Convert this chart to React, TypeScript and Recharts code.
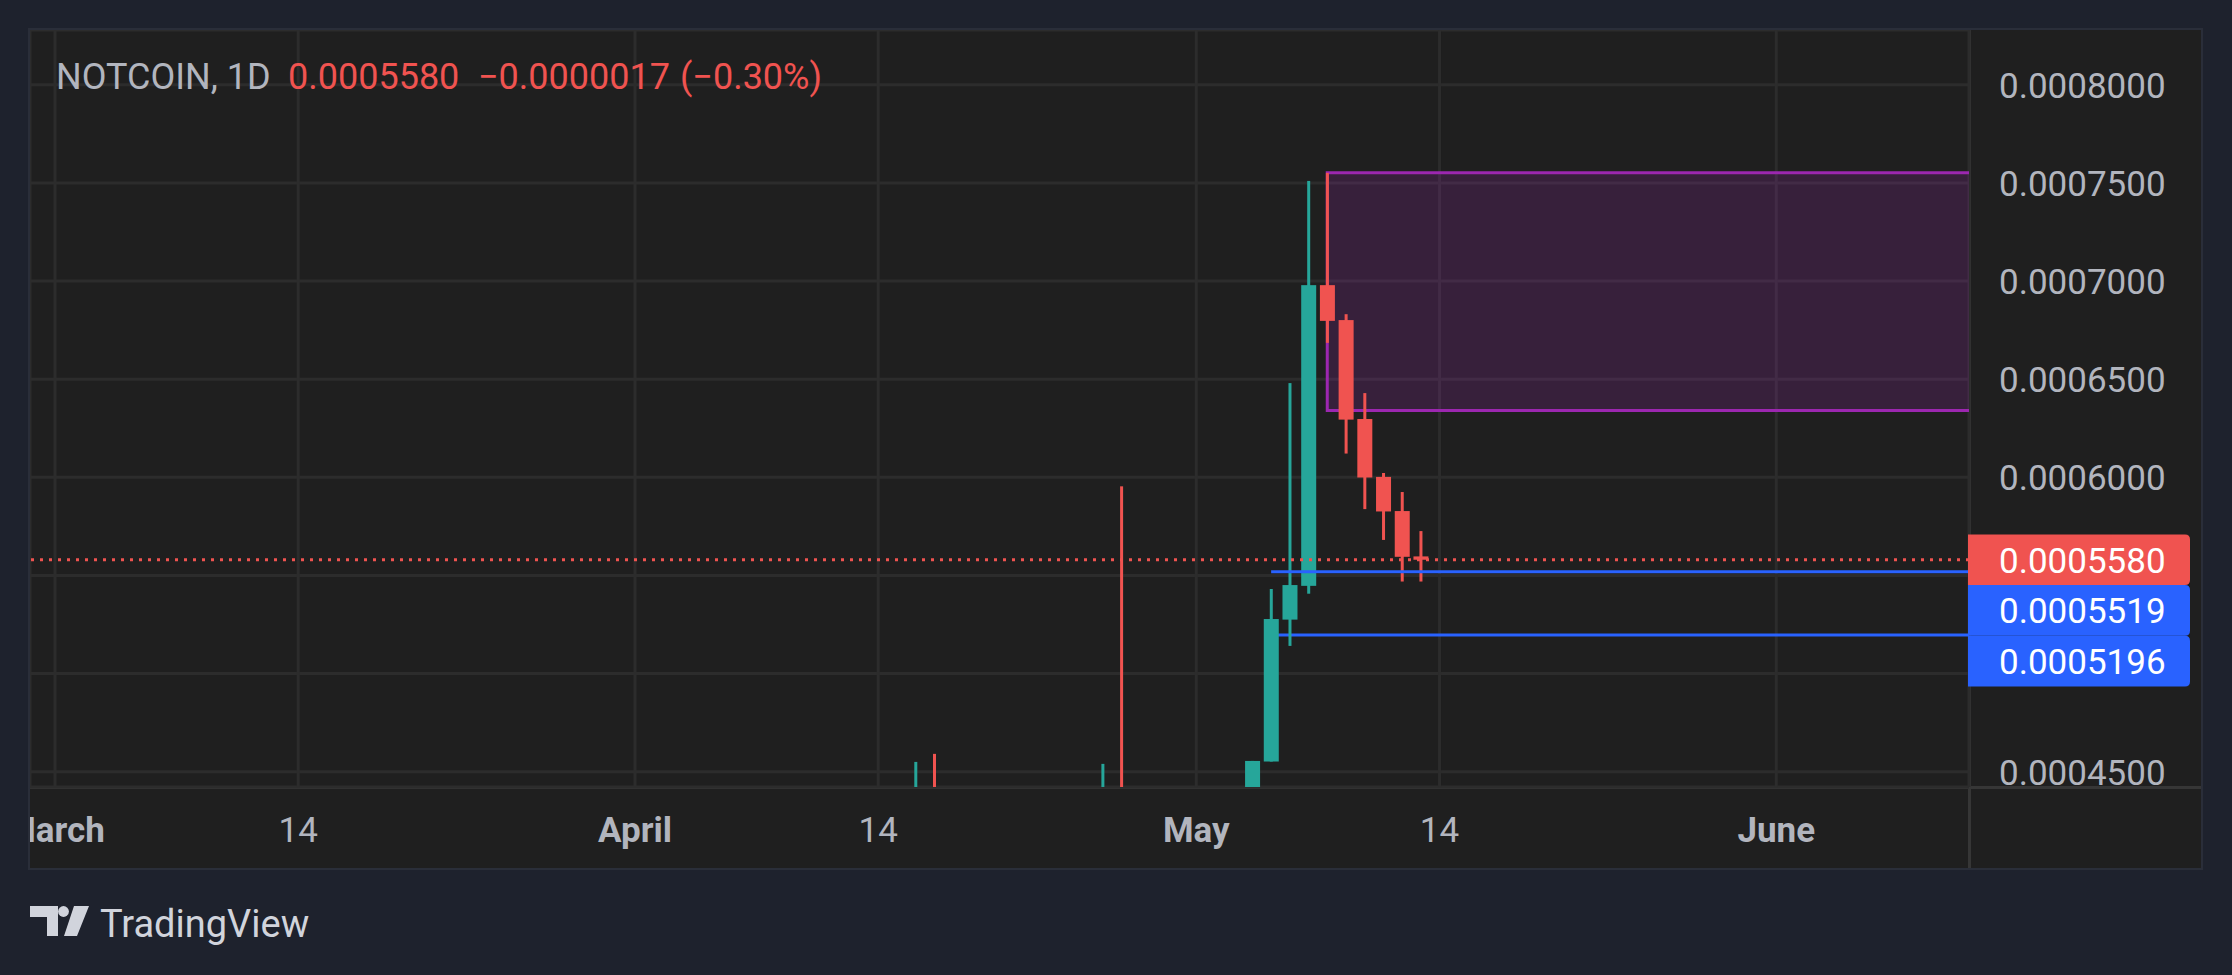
import React from 'react';
import {
  ComposedChart,
  Bar,
  XAxis,
  YAxis,
  CartesianGrid,
  ReferenceArea,
  ReferenceLine,
  ReferenceDot,
} from 'recharts';

// ---------- data ----------
const candleDates = [
  '2024-04-16', '2024-04-17', '2024-04-26', '2024-04-27',
  '2024-05-04', '2024-05-05', '2024-05-06', '2024-05-07', '2024-05-08',
  '2024-05-09', '2024-05-10', '2024-05-11', '2024-05-12', '2024-05-13',
];
const opens = [
  0.000432, 0.000438, 0.000431, 0.000436,
  0.000432, 0.0004552, 0.0005275, 0.0005447, 0.0006979,
  0.0006801, 0.0006297, 0.0006002, 0.0005828, 0.0005597,
];
const highs = [
  0.000455, 0.0004591, 0.000454, 0.0005954,
  0.0004555, 0.0005431, 0.000648, 0.000751, 0.0007551,
  0.0006831, 0.0006429, 0.0006022, 0.0005925, 0.0005726,
];
const lows = [
  0.00043, 0.00043, 0.000429, 0.000428,
  0.00043, 0.0004552, 0.0005141, 0.0005407, 0.0006685,
  0.0006121, 0.0005838, 0.0005681, 0.0005469, 0.0005469,
];
const closes = [
  0.000438, 0.000433, 0.000436, 0.000432,
  0.0004555, 0.0005278, 0.0005451, 0.0006979, 0.0006797,
  0.0006294, 0.0005999, 0.0005826, 0.0005595, 0.000558,
];

const xTickDates = ['2024-03-01', '2024-03-14', '2024-04-01', '2024-04-14', '2024-05-01', '2024-05-14', '2024-06-01'];
const xTickLabels = ['March', '14', 'April', '14', 'May', '14', 'June'];
const yTicks = [0.00045, 0.0005, 0.00055, 0.0006, 0.00065, 0.0007, 0.00075, 0.0008];

const levelValues = [0.000558, 0.0005519, 0.0005196];
const levelColors = ['#f05350', '#2962ff', '#2962ff'];
const levelStartDates = ['', '2024-05-05', '2024-05-05'];

const zoneStartDate = '2024-05-08';
const zoneTop = 0.0007551;
const zoneBottom = 0.000634;

const titleSymbol = 'NOTCOIN, 1D';
const titlePrice = '0.0005580';
const titleChange = '−0.0000017';
const titlePct = '(−0.30%)';

// ---------- layout / style constants ----------
const UP = '#26a69a';
const DOWN = '#f05350';
const GRID = '#2c2c2c';
const TEXT = '#b2b5be';
const FONT = 'Roboto, "Noto Sans", sans-serif';

const CHART_W = 2171;
const CHART_H = 838;
const XAXIS_H = 81;
const YAXIS_W = 232;
const PLOT_H = CHART_H - XAXIS_H;

const X_MIN = -1.336;
const X_MAX = 102.3;
const Y_MIN = 0.00044222;
const Y_MAX = 0.00082789;
const TAG_H = 50.7;

const ORIGIN = Date.UTC(2024, 2, 1);
const dayOf = (s: string) => (Date.parse(s + 'T00:00:00Z') - ORIGIN) / 86400000;

const candles = candleDates.map((d, i) => ({
  day: dayOf(d),
  open: opens[i],
  high: highs[i],
  low: lows[i],
  close: closes[i],
}));

const xTicks = xTickDates.map(dayOf);

// stack price tags so they don't overlap (value space)
const tagValueH = (TAG_H * (Y_MAX - Y_MIN)) / PLOT_H;
const order = levelValues.map((v, i) => i).sort((a, b) => levelValues[b] - levelValues[a]);
const tagCenters: number[] = new Array(levelValues.length);
{
  let prev = Infinity;
  for (const i of order) {
    const c = Math.min(levelValues[i], prev - tagValueH);
    tagCenters[i] = c;
    prev = c;
  }
}

// ---------- shapes ----------
const Candle = (props: any) => {
  const { x, y, width, height, payload } = props;
  if (!payload) return null;
  const { open, close, high, low } = payload;
  const color = close >= open ? UP : DOWN;
  const pHigh = Math.min(y, y + height);
  const pLow = Math.max(y, y + height);
  const px = (v: number) => pHigh + ((high - v) / (high - low)) * (pLow - pHigh);
  const cx = x + width / 2;
  const bTop = px(Math.max(open, close));
  const bBot = px(Math.min(open, close));
  return (
    <g>
      <rect x={cx - 1.5} y={pHigh} width={3} height={pLow - pHigh} fill={color} />
      <rect x={x} y={bTop} width={width} height={Math.max(bBot - bTop, 3)} fill={color} />
    </g>
  );
};

const XTick = (props: any) => {
  const { x, y, payload } = props;
  const idx = xTicks.indexOf(payload.value);
  const label = idx >= 0 ? xTickLabels[idx] : '';
  const bold = !/^\d+$/.test(label);
  return (
    <text x={x} y={y + 54.7} textAnchor="middle" fill={TEXT} fontFamily={FONT} fontSize={35} fontWeight={bold ? 700 : 400}>
      {label}
    </text>
  );
};

const YTick = (props: any) => {
  const { x, y, payload } = props;
  const v = payload.value as number;
  const hidden = tagCenters.some((c) => Math.abs(c - v) < tagValueH / 2);
  if (hidden) return null;
  return (
    <text x={x} y={y + 13} textAnchor="start" fill={TEXT} fontFamily={FONT} fontSize={35}>
      {v.toFixed(7)}
    </text>
  );
};

const makeTag = (text: string, color: string) => (p: any) => {
  const { cx, cy } = p;
  const x0 = cx - 1;
  const w = 222;
  const r = 5;
  const top = cy - TAG_H / 2;
  const d = `M ${x0} ${top} H ${x0 + w - r} Q ${x0 + w} ${top} ${x0 + w} ${top + r} V ${top + TAG_H - r} Q ${x0 + w} ${top + TAG_H} ${x0 + w - r} ${top + TAG_H} H ${x0} Z`;
  return (
    <g>
      <path d={d} fill={color} />
      <text x={cx + 30} y={cy + 13} fill="#ffffff" fontFamily={FONT} fontSize={35}>
        {text}
      </text>
    </g>
  );
};

export default function App() {
  return (
    <div
      style={{
        position: 'fixed',
        left: 0,
        top: 0,
        width: 2232,
        height: 975,
        background: '#1e222d',
        overflow: 'hidden',
      }}
    >
      <div
        style={{
          position: 'absolute',
          left: 28,
          top: 28,
          width: 2175,
          height: 842,
          boxSizing: 'border-box',
          border: '2px solid #2a2e39',
          background: '#1f1f1f',
          overflow: 'hidden',
        }}
      >
        {/* axis separators */}
        <div style={{ position: 'absolute', left: 0, top: PLOT_H - 1.5, width: CHART_W, height: 3, background: '#363636' }} />
        <div style={{ position: 'absolute', left: CHART_W - YAXIS_W - 1.5, top: 0, width: 3, height: CHART_H, background: '#363636' }} />
        <div style={{ position: 'absolute', left: 0, top: 0 }}>
          <ComposedChart width={CHART_W} height={CHART_H} data={candles} margin={{ top: 0, right: 0, bottom: 0, left: 0 }}>
            <CartesianGrid stroke={GRID} strokeWidth={3} />
            <XAxis
              dataKey="day"
              type="number"
              domain={[X_MIN, X_MAX]}
              allowDataOverflow
              ticks={xTicks}
              interval={0}
              tickLine={false}
              axisLine={false}
              tickSize={0}
              tickMargin={0}
              height={XAXIS_H}
              tick={<XTick />}
            />
            <YAxis
              orientation="right"
              type="number"
              domain={[Y_MIN, Y_MAX]}
              allowDataOverflow
              ticks={yTicks}
              interval={0}
              width={YAXIS_W}
              tickLine={false}
              axisLine={false}
              tickSize={0}
              tickMargin={30}
              tick={<YTick />}
            />
            <ReferenceArea
              x1={dayOf(zoneStartDate)}
              x2={X_MAX + 1}
              y1={zoneBottom}
              y2={zoneTop}
              fill="#9c27b0"
              fillOpacity={0.2}
              stroke="#9c27b0"
              strokeWidth={3}
              ifOverflow="hidden"
            />
            <ReferenceLine
              segment={[
                { x: dayOf(levelStartDates[2]), y: levelValues[2] },
                { x: X_MAX, y: levelValues[2] },
              ]}
              stroke={levelColors[2]}
              strokeWidth={3}
              ifOverflow="visible"
              zIndex={250}
            />
            <Bar
              dataKey={(d: any) => [d.low, d.high]}
              barSize={15}
              shape={Candle}
              isAnimationActive={false}
            />
            <ReferenceLine
              segment={[
                { x: dayOf(levelStartDates[1]), y: levelValues[1] },
                { x: X_MAX, y: levelValues[1] },
              ]}
              stroke={levelColors[1]}
              strokeWidth={3}
              ifOverflow="visible"
            />
            <ReferenceLine
              y={levelValues[0]}
              stroke={levelColors[0]}
              strokeWidth={3}
              strokeDasharray="3 6"
            />
            {levelValues.map((v, i) => (
              <ReferenceDot
                key={i}
                x={X_MAX}
                y={tagCenters[i]}
                r={1}
                ifOverflow="visible"
                shape={makeTag(v.toFixed(7), levelColors[i])}
              />
            ))}
          </ComposedChart>
        </div>
        <svg style={{ position: 'absolute', left: 0, top: 0 }} width={900} height={110}>
          <text y={59.3} fontFamily={FONT} fontSize={36}>
            <tspan x={26} fill={TEXT}>{titleSymbol}</tspan>
            <tspan x={258} fill={DOWN}>{titlePrice}</tspan>
            <tspan x={448} fill={DOWN}>{titleChange}</tspan>
            <tspan x={650} fill={DOWN}>{titlePct}</tspan>
          </text>
        </svg>
      </div>
      <svg style={{ position: 'absolute', left: 0, top: 880 }} width={400} height={80}>
        <g fill="#d1d4dc" transform="translate(0,-880)">
          <polygon points="30,906 58,906 58,936 47,936 47,917 30,917" />
          <circle cx={63.5} cy={911.5} r={5.4} />
          <polygon points="74,906 89,906 77,936 64,936" />
          <text x={100} y={936.7} fontFamily={FONT} fontSize={38} fill="#d1d4dc">
            TradingView
          </text>
        </g>
      </svg>
    </div>
  );
}
